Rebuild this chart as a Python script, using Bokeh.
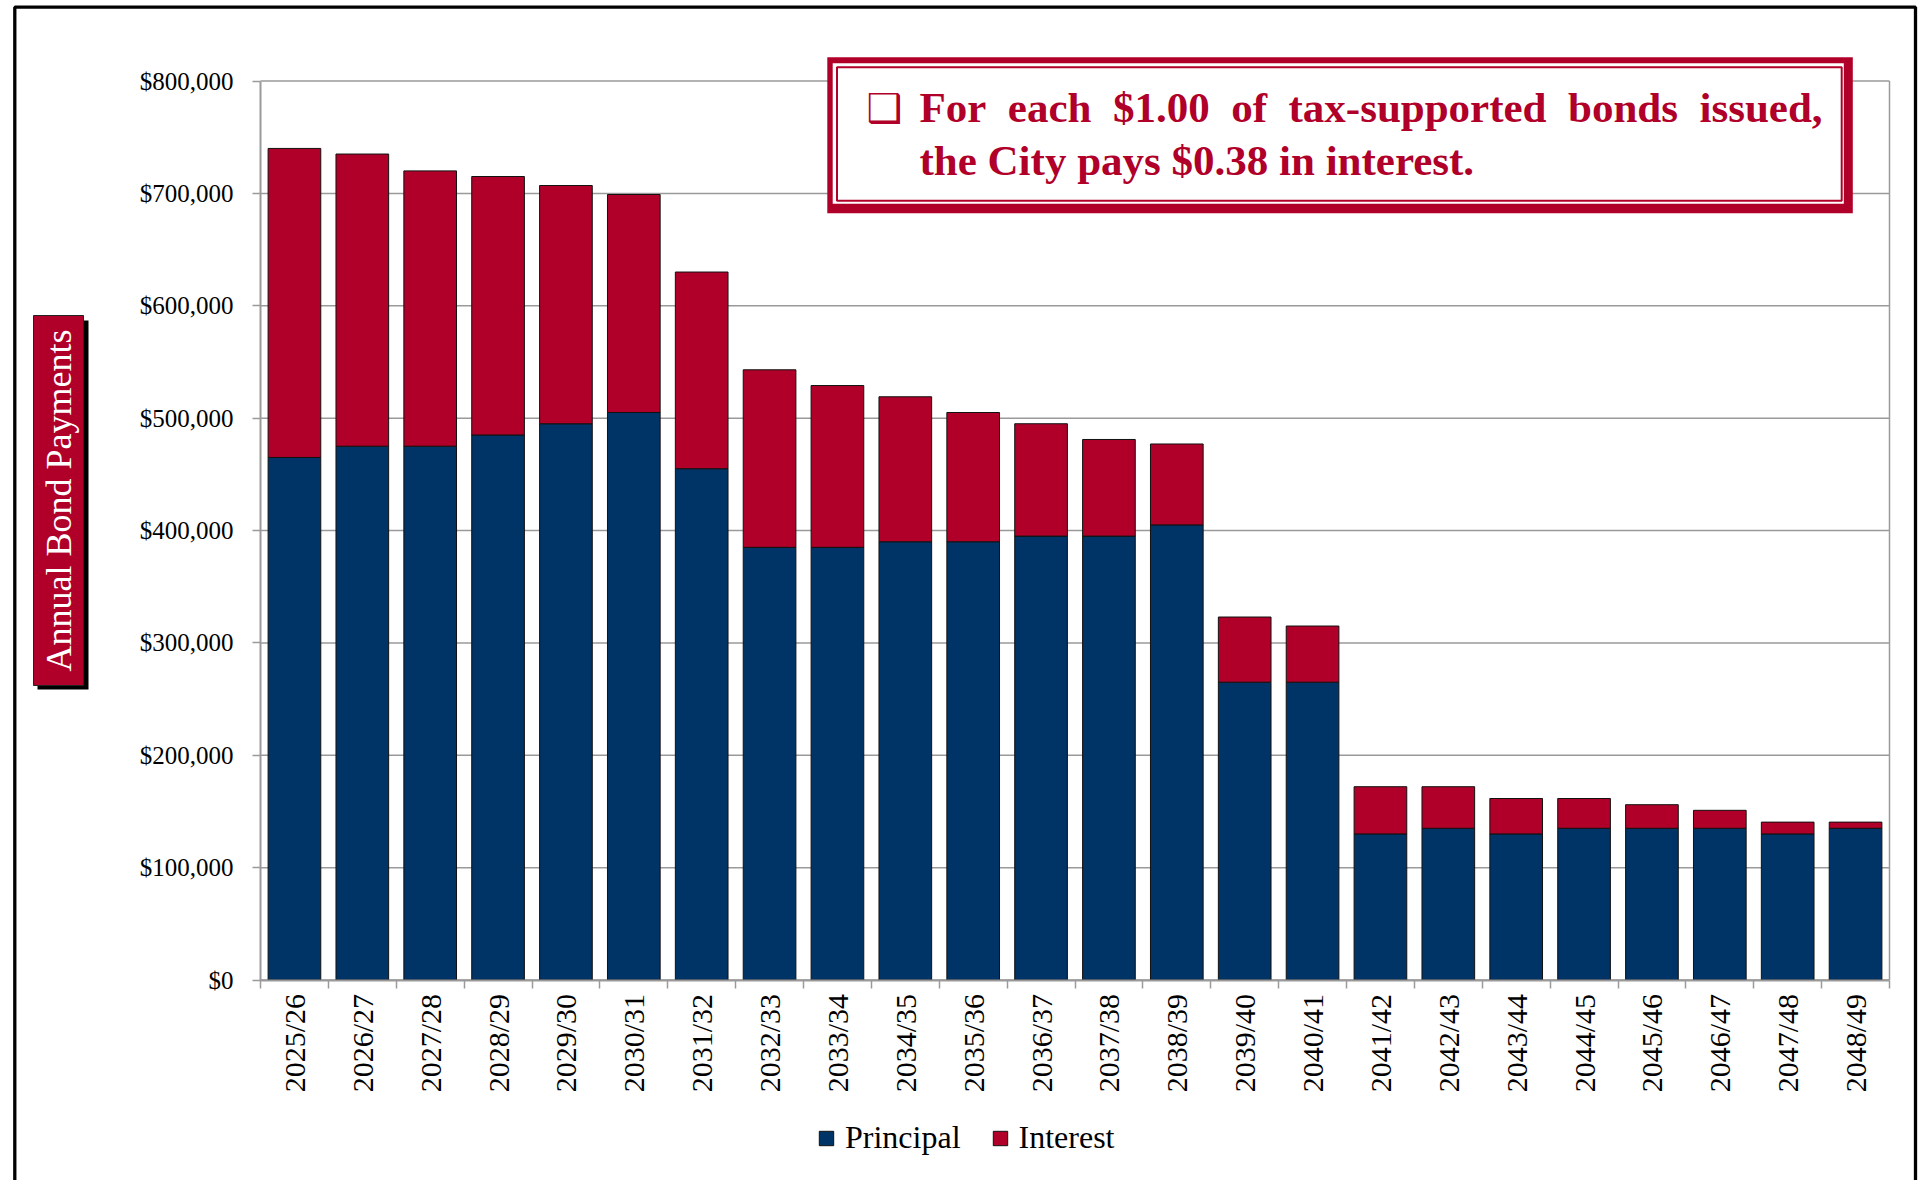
from math import pi
from bokeh.plotting import figure
from bokeh.models import (Range1d, FixedTicker, NumeralTickFormatter, BoxAnnotation,
                          Label, Legend, LegendItem, ColumnDataSource)
from bokeh.embed import file_html
from bokeh.resources import INLINE

# ---------------- data ----------------
years = ["2025/26", "2026/27", "2027/28", "2028/29", "2029/30", "2030/31", "2031/32",
         "2032/33", "2033/34", "2034/35", "2035/36", "2036/37", "2037/38", "2038/39",
         "2039/40", "2040/41", "2041/42", "2042/43", "2043/44", "2044/45", "2045/46",
         "2046/47", "2047/48", "2048/49"]
principal = [465000, 475000, 475000, 485000, 495000, 505000, 455000,
             385000, 385000, 390000, 390000, 395000, 395000, 405000,
             265000, 265000, 130000, 135000, 130000, 135000, 135000,
             135000, 130000, 135000]
interest = [275000, 260000, 245000, 230000, 212000, 194000, 175000,
            158000, 144000, 129000, 115000, 100000, 86000, 72000,
            58000, 50000, 42000, 37000, 31500, 26500, 21000,
            16000, 10500, 5500]
y_ticks = [0, 100000, 200000, 300000, 400000, 500000, 600000, 700000, 800000]
series_names = ["Principal", "Interest"]
y_label = "Annual Bond Payments"
note_line1 = "For\u2002each\u2002$1.00\u2002of\u2002tax-supported\u2002bonds\u2002issued,"
note_line2 = "the City pays $0.38 in interest."

NAVY = "#003366"
CRIMSON = "#B00029"
GRID = "#9a9a9a"
FONT = "Liberation Serif"

# ---------------- layout (page pixels) ----------------
W, H = 1919, 1180
PL, PR, PT, PB = 260, 1889, 80.5, 979.5   # plot area
n = len(years)
ymax = y_ticks[-1]
ppx = (PR - PL) / n
ppy = (PB - PT) / ymax

centers = [i + 0.5 for i in range(n)]
src = ColumnDataSource(dict(x=centers, principal=principal, interest=interest))

p = figure(width=W, height=H,
           x_range=Range1d(-PL / ppx, n + (W - PR) / ppx),
           y_range=Range1d(-(H - PB) / ppy, ymax + PT / ppy),
           output_backend="svg", toolbar_location=None, min_border=0)
p.min_border_left = p.min_border_right = p.min_border_top = p.min_border_bottom = 0
p.background_fill_color = "white"
p.border_fill_color = "white"
p.outline_line_color = None
p.xgrid.visible = False
p.ygrid.visible = False

# gridlines limited to the plot area, plus right border of plot area
p.segment(x0=[0] * len(y_ticks), x1=[n] * len(y_ticks), y0=y_ticks, y1=y_ticks,
          line_color=GRID, line_width=1.5)
p.segment(x0=[n], x1=[n], y0=[0], y1=[ymax], line_color=GRID, line_width=1.5)

rs = p.vbar_stack(["principal", "interest"], x="x", width=0.776, source=src,
                  fill_color=[NAVY, CRIMSON], line_color="#111111", line_width=1)

# x axis
xt = FixedTicker(ticks=centers, minor_ticks=list(range(n + 1)))
xa = p.xaxis[0]
xa.fixed_location = 0
xa.bounds = (0, n)
xa.ticker = xt
xa.major_label_overrides = {c: y for c, y in zip(centers, years)}
xa.major_label_orientation = pi / 2
xa.major_tick_line_color = None
xa.major_tick_out = 0
xa.major_tick_in = 0
xa.minor_tick_out = 8
xa.minor_tick_in = 0
xa.minor_tick_line_color = GRID
xa.minor_tick_line_width = 1.5
xa.axis_line_color = GRID
xa.axis_line_width = 2
xa.major_label_text_font = FONT
xa.major_label_text_font_size = "30px"
xa.major_label_text_color = "black"
xa.major_label_standoff = 6

# y axis
ya = p.yaxis[0]
ya.fixed_location = 0
ya.bounds = (0, ymax)
ya.ticker = FixedTicker(ticks=y_ticks)
ya.formatter = NumeralTickFormatter(format="$0,0")
ya.major_tick_out = 8
ya.major_tick_in = 0
ya.minor_tick_line_color = None
ya.major_tick_line_color = GRID
ya.major_tick_line_width = 1.5
ya.axis_line_color = GRID
ya.axis_line_width = 2
ya.major_label_text_font = FONT
ya.major_label_text_font_size = "25px"
ya.major_label_text_color = "black"
ya.major_label_standoff = 19

# legend below the plot
legend = Legend(items=[LegendItem(label=series_names[0], renderers=[rs[0]]),
                       LegendItem(label=series_names[1], renderers=[rs[1]])],
                orientation="horizontal", location=(817, 24),
                label_text_font=FONT, label_text_font_size="32px", label_text_color="black",
                glyph_width=18, glyph_height=18, label_standoff=10, spacing=30,
                padding=0, margin=0, border_line_color=None, background_fill_alpha=0)
p.add_layout(legend, "center")


def box(l, t, r, b, fill=None, line=None, lw=1):
    return BoxAnnotation(left=l, right=r, top=t, bottom=b,
                         left_units="canvas", right_units="canvas",
                         top_units="canvas", bottom_units="canvas",
                         fill_color=fill if fill else "white", fill_alpha=1 if fill else 0,
                         line_color=line if line else "white", line_alpha=1 if line else 0,
                         line_width=lw)


# outer slide frame
p.add_layout(box(14.3, 6.7, 1915, 1200, None, "black", 3.3))

# y-axis label box with shadow
p.add_layout(box(37, 320, 88, 689, "black"))
p.add_layout(box(33, 315, 83, 685, CRIMSON, "#222222", 1))
p.add_layout(Label(x=58, y=500, x_units="canvas", y_units="canvas", text=y_label,
                   angle=pi / 2, text_align="center", text_baseline="middle",
                   text_color="white", text_font=FONT, text_font_size="36px"))

# note box
p.add_layout(box(826.8, 56.7, 1852.3, 212.7, CRIMSON))
p.add_layout(box(832.2, 62.7, 1843.3, 203.3, "white"))
p.add_layout(box(836.5, 66.7, 1841.2, 200.3, "white", CRIMSON, 2))
p.add_layout(Label(x=866, y=107, x_units="canvas", y_units="canvas", text="\u2751",
                   text_align="left", text_baseline="alphabetic", text_color=CRIMSON,
                   text_font="DejaVu Sans", text_font_size="40px"))
p.add_layout(Label(x=919, y=107, x_units="canvas", y_units="canvas", text=note_line1,
                   text_align="left", text_baseline="alphabetic", text_color=CRIMSON,
                   text_font=FONT, text_font_size="43px", text_font_style="bold"))
p.add_layout(Label(x=919, y=160, x_units="canvas", y_units="canvas", text=note_line2,
                   text_align="left", text_baseline="alphabetic", text_color=CRIMSON,
                   text_font=FONT, text_font_size="43px", text_font_style="bold"))

open("out.html", "w").write(file_html(p, INLINE))
